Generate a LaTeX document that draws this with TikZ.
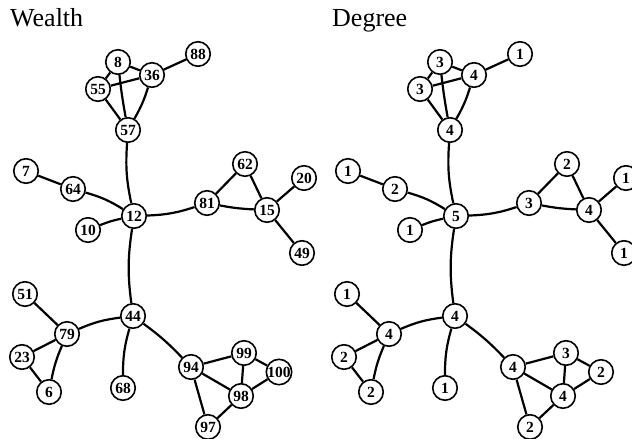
\documentclass[tikz,border=0pt]{standalone}
\usepackage{fontspec}
\setmainfont{Liberation Serif}[BoldFont={Liberation Serif Bold}]
\begin{document}
\begin{tikzpicture}[x=1pt,y=1pt,
  vtx/.style={circle,draw,line width=1.6pt,fill=white,minimum size=24.5pt,inner sep=0pt,
    font=\fontsize{15.5}{15.5}\selectfont\bfseries},
  edge/.style={line width=2.2pt},
  title/.style={anchor=base west,inner sep=0pt,font=\fontsize{26}{28}\selectfont}]
\useasboundingbox (0,0) rectangle (632,-439);
\node[title] (tw) at (10,-27) {Wealth};
\node[title] (td) at (332,-27) {Degree};
\foreach \n/\x/\y/\w/\d in {
  n8/118/62/8/3, n36/152/75/36/4, n88/198/54/88/1, n55/98/89/55/3, n57/128/130/57/4,
  n7/26/171/7/1, n64/73/189/64/2, n12/134/216/12/5, n10/88/230/10/1,
  n62/245/164/62/2, n81/207/203/81/3, n15/267/210/15/4, n20/304/178/20/1, n49/302/253/49/1,
  n51/25/294/51/1, n44/133/316/44/4, n79/67/334/79/4, n23/22/357/23/2, n6/49/392/6/2,
  n68/123/388/68/1, n94/191/367/94/4, n99/244/353/99/3, n100/279/372/100/2,
  n98/241/396/98/4, n97/208/427/97/2}{
  \node[vtx] (L\n) at (\x,-\y) {\w};
  \node[vtx] (R\n) at (\x+322,-\y) {\d};
}
\foreach \a/\b/\bb in {
  n8/n36/0, n8/n55/0, n8/n57/2, n55/n36/0, n55/n57/0, n36/n57/-6, n36/n88/0,
  n57/n12/8, n12/n64/8, n64/n7/0, n12/n10/5, n12/n81/8, n12/n44/8,
  n81/n62/0, n81/n15/4, n62/n15/0, n15/n20/0, n15/n49/0,
  n44/n79/8, n44/n68/8, n44/n94/-5,
  n79/n51/0, n79/n23/0, n79/n6/6, n23/n6/0,
  n94/n99/0, n94/n98/0, n94/n97/0, n99/n98/0, n99/n100/0, n98/n100/0, n98/n97/0}{
  \draw[edge] (L\a) to[bend right=\bb] (L\b);
  \draw[edge] (R\a) to[bend right=\bb] (R\b);
}
\end{tikzpicture}
\end{document}
